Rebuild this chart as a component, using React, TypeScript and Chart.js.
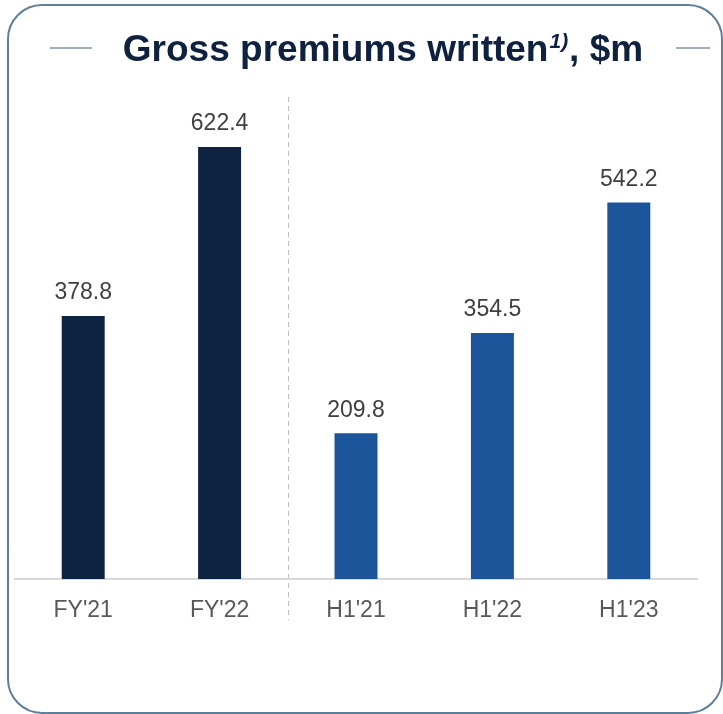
import React, { useEffect, useRef } from "react";
import { Chart, registerables } from "chart.js";

Chart.register(...registerables);

const categories = ["FY'21", "FY'22", "H1'21", "H1'22", "H1'23"];
const values = [378.8, 622.4, 209.8, 354.5, 542.2];
const barColors = ["#0E2341", "#0E2341", "#1B5499", "#1B5499", "#1B5499"];
const valueLabels = ["378.8", "622.4", "209.8", "354.5", "542.2"];

const FONT = '"Liberation Sans", Arial, sans-serif';
const W = 723;
const H = 714;

const decorPlugin = {
  id: "decor",
  beforeDraw(chart: any) {
    const ctx = chart.ctx;
    ctx.save();
    // rounded frame
    ctx.strokeStyle = "#5F7E97";
    ctx.lineWidth = 2;
    const x0 = 8, y0 = 5, x1 = 722, y1 = 713, r = 34;
    ctx.beginPath();
    ctx.moveTo(x0 + r, y0);
    ctx.lineTo(x1 - r, y0);
    ctx.arcTo(x1, y0, x1, y0 + r, r);
    ctx.lineTo(x1, y1 - r);
    ctx.arcTo(x1, y1, x1 - r, y1, r);
    ctx.lineTo(x0 + r, y1);
    ctx.arcTo(x0, y1, x0, y1 - r, r);
    ctx.lineTo(x0, y0 + r);
    ctx.arcTo(x0, y0, x0 + r, y0, r);
    ctx.closePath();
    ctx.stroke();

    // title
    const cx = 383;
    const mainFont = `bold 37px ${FONT}`;
    const supFont = `italic bold 21px ${FONT}`;
    ctx.font = mainFont;
    const t1 = "Gross premiums written";
    const t3 = ", $m";
    const w1 = ctx.measureText(t1).width;
    const w3 = ctx.measureText(t3).width;
    ctx.font = supFont;
    const t2 = "1)";
    const w2 = ctx.measureText(t2).width + 2;
    const total = w1 + w2 + w3;
    let x = cx - total / 2;
    const baseY = 61;
    ctx.fillStyle = "#0E2240";
    ctx.textBaseline = "alphabetic";
    ctx.textAlign = "left";
    ctx.font = mainFont;
    ctx.fillText(t1, x, baseY);
    x += w1 + 1;
    ctx.font = supFont;
    ctx.fillText(t2, x, baseY - 13);
    x += w2 - 1;
    ctx.font = mainFont;
    ctx.fillText(t3, x, baseY);

    // side lines
    const cy = 48;
    ctx.strokeStyle = "#7F96A9";
    ctx.lineWidth = 1.5;
    ctx.beginPath();
    ctx.moveTo(50, cy);
    ctx.lineTo(92, cy);
    ctx.moveTo(676, cy);
    ctx.lineTo(710, cy);
    ctx.stroke();

    // dashed separator
    const xs = chart.scales.x;
    const sx = Math.round((xs.getPixelForValue(1) + xs.getPixelForValue(2)) / 2) + 0.5;
    ctx.strokeStyle = "#BFBFBF";
    ctx.lineWidth = 1;
    ctx.setLineDash([5, 4]);
    ctx.beginPath();
    ctx.moveTo(sx, 97);
    ctx.lineTo(sx, 620);
    ctx.stroke();
    ctx.restore();
  },
  afterDatasetsDraw(chart: any) {
    const ctx = chart.ctx;
    const meta = chart.getDatasetMeta(0);
    ctx.save();
    ctx.font = `23px ${FONT}`;
    ctx.fillStyle = "#404040";
    ctx.textAlign = "center";
    ctx.textBaseline = "middle";
    meta.data.forEach((bar: any, i: number) => {
      ctx.fillText(valueLabels[i], bar.x, bar.y - 23);
    });
    ctx.restore();
  },
};

export default function App() {
  const ref = useRef<HTMLCanvasElement | null>(null);
  useEffect(() => {
    if (!ref.current) return;
    const chart = new Chart(ref.current, {
      type: "bar",
      data: {
        labels: categories,
        datasets: [
          {
            data: values,
            backgroundColor: barColors,
            borderWidth: 0,
            categoryPercentage: 1,
            barPercentage: 0.315,
          },
        ],
      },
      options: {
        responsive: false,
        animation: false,
        devicePixelRatio: 1,
        layout: { padding: { left: 15, right: 26, top: 93, bottom: 0 } },
        plugins: {
          legend: { display: false },
          tooltip: { enabled: false },
          title: { display: false },
        },
        scales: {
          x: {
            grid: { display: false, drawTicks: false },
            border: { display: true, color: "#D9D9D9", width: 2 },
            ticks: {
              color: "#595959",
              font: { family: FONT, size: 23 },
              padding: 18,
            },
            afterFit(scale: any) {
              scale.height = H - 579;
            },
          },
          y: {
            display: false,
            min: 0,
            max: 700,
          },
        },
      },
      plugins: [decorPlugin],
    });
    return () => chart.destroy();
  }, []);
  return (
    <div style={{ position: "fixed", left: 0, top: 0, width: W, height: H, background: "#fff" }}>
      <canvas ref={ref} width={W} height={H} style={{ display: "block" }} />
    </div>
  );
}
